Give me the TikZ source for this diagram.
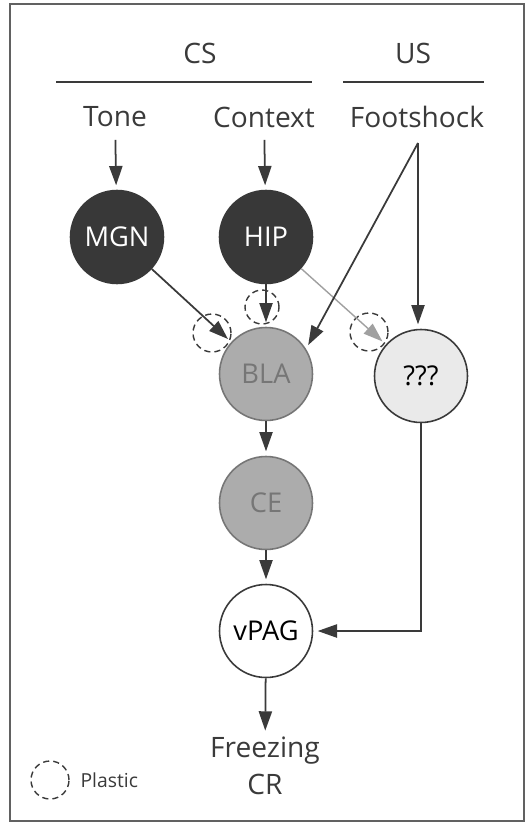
\documentclass[tikz,border=0pt]{standalone}
\usepackage{fontspec}
\setmainfont{Open Sans}
\usetikzlibrary{arrows.meta,positioning}
\definecolor{ink}{RGB}{58,58,58}
\definecolor{cellfill}{RGB}{56,56,56}
\definecolor{amyfill}{RGB}{172,172,172}
\definecolor{amytext}{RGB}{118,118,118}
\definecolor{unkfill}{RGB}{234,234,234}
\definecolor{faint}{RGB}{160,160,160}

\begin{document}
\begin{tikzpicture}[
  x=0.02cm, y=-0.02cm,
  lbl/.style={font=\fontsize{16}{21}\selectfont, text=ink, inner sep=1pt},
  region/.style={circle, draw=ink, line width=0.9pt, minimum size=1.86cm, inner sep=0pt,
                 font=\fontsize{15.5}{18}\selectfont},
  plastic/.style={circle, draw=ink, dash pattern=on 3.5pt off 2.3pt, line width=0.8pt,
                  minimum size=0.76cm, inner sep=0pt},
  dep/.style={-{Triangle[length=11pt,width=7.5pt]}, line width=1pt, ink, shorten >=2.5pt},
]
\useasboundingbox (0,0) rectangle (528,824);
\draw[line width=1pt, ink!80] (10,4) rectangle (524,821);

% Stimuli
\node[lbl] (cs) at (200,53) {CS};
\node[lbl] (us) at (413,53) {US};
\draw[line width=0.8pt, ink] (56,82) -- (312,82);
\draw[line width=0.8pt, ink] (343,82) -- (484,82);
\node[lbl] (tone) at (115,117) {Tone};
\node[lbl] (ctx) at (264,117) {Context};
\node[lbl] (foot) at (417,117) {Footshock};
\coordinate (fsj) at (418,143);

% Regions
\node[region, fill=cellfill, draw=cellfill, text=white] (mgn) at (117,237) {MGN};
\node[region, fill=cellfill, draw=cellfill, text=white] (hip) at (266,237) {HIP};
\node[region, fill=amyfill, draw=amytext, text=amytext] (bla) at (266,374) {BLA};
\node[region, fill=unkfill] (unk) at (421,376) {???};
\node[region, fill=amyfill, draw=amytext, text=amytext] (ce) at (266,503) {CE};
\node[region, fill=white] (vpag) at (266,631) {vPAG};
\node[lbl, align=center] (freeze) at (265,766) {Freezing\\CR};

% Plastic sites
\node[plastic] (pmgn) at (212,333) {};
\node[plastic, minimum size=0.68cm] (phip) at (262,307) {};
\node[plastic] (punk) at (369,332) {};

% Connections
\draw[dep, shorten <=6pt] (tone) -- (mgn);
\draw[dep, shorten <=6pt] (ctx) -- (hip);
\draw[dep] (mgn) -- (bla);
\draw[dep] (hip) -- (bla);
\draw[dep, faint, line width=0.8pt] (hip) -- (unk);
\draw[dep] (fsj) -- (bla.32);
\draw[dep] (fsj) -- (fsj |- unk.north);
\draw[dep] (bla) -- (ce);
\draw[dep] (ce) -- (vpag);
\draw[dep] (unk.south) |- (vpag.east);
\draw[dep] (vpag) -- (freeze);

% Key
\node[plastic] (key) at (50,780) {};
\node[font=\fontsize{11}{13}\selectfont, text=ink, right=5pt of key, inner sep=1pt] (keytext) {Plastic};
\end{tikzpicture}
\end{document}
